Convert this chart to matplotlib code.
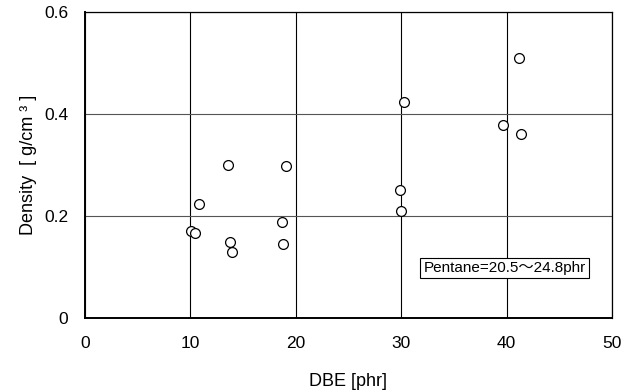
import matplotlib
matplotlib.use('Agg')
import matplotlib.pyplot as plt

plt.rcParams['font.family'] = ['Liberation Sans', 'Noto Sans CJK JP']

# DBE [phr] vs density [g/cm3]
dbe = [10.1, 10.5, 10.8, 13.55, 13.75, 13.95, 18.75, 18.8, 19.05,
       29.9, 30.0, 30.3, 39.7, 41.2, 41.4]
density = [0.170, 0.167, 0.224, 0.299, 0.148, 0.128, 0.188, 0.145, 0.297,
           0.250, 0.210, 0.424, 0.378, 0.509, 0.361]

x_ticks = [0, 10, 20, 30, 40, 50]
y_ticks = [0, 0.2, 0.4, 0.6]
y_ticklabels = ['0', '0.2', '0.4', '0.6']

fig = plt.figure(figsize=(6.33, 3.92), dpi=100)
ax = fig.add_axes([0.1338, 0.190, 0.8330, 0.779])

ax.scatter(dbe, density, s=50, facecolors='white', edgecolors='black',
           linewidths=0.9, zorder=3)

ax.set_xlim(0, 50)
ax.set_ylim(0, 0.6)
ax.set_xticks(x_ticks)
ax.set_yticks(y_ticks)
ax.set_yticklabels(y_ticklabels)
ax.tick_params(length=0, labelsize=12.5)
ax.tick_params(axis='x', pad=13)
ax.tick_params(axis='y', pad=12)

ax.xaxis.grid(True, color='black', linewidth=0.8)
ax.yaxis.grid(True, color='#555555', linewidth=0.8)
ax.set_axisbelow(True)

for side in ['left', 'bottom']:
    ax.spines[side].set_linewidth(1.4)
for side in ['top', 'right']:
    ax.spines[side].set_linewidth(0.9)

ax.set_xlabel('DBE [phr]', fontsize=13, labelpad=16)
ax.set_ylabel('Density  [ g/cm ³ ]', fontsize=13, labelpad=5)

ax.text(39.8, 0.097, 'Pentane=20.5～24.8phr', fontsize=11, ha='center', va='center',
        bbox=dict(boxstyle='square,pad=0.2', facecolor='white', edgecolor='black',
                  linewidth=0.8), zorder=4)

fig.savefig('out.png', dpi=100)
